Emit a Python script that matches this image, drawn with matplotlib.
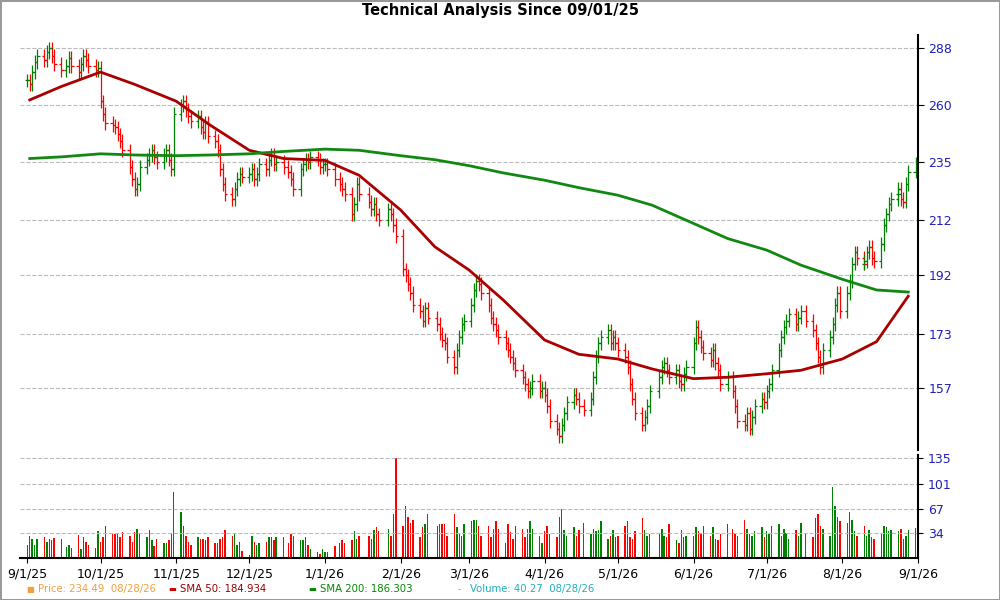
import matplotlib
matplotlib.use("Agg")
import matplotlib.pyplot as plt
import matplotlib.dates as mdates
import matplotlib.ticker as mticker
import numpy as np
import pandas as pd

months = ["2025-09","2025-10","2025-11","2025-12","2026-01","2026-02","2026-03",
          "2026-04","2026-05","2026-06","2026-07","2026-08"]
closes = [
 [272,270,276,281,284,282,286,288,284,280,277,279,283,279,276,280,284,282,279,277,278],
 [262,256,252,251,250,247,244,240,233,228,224,226,233,236,238,240,237,235,238,240,236,232,256],
 [260,262,258,255,253,255,250,248,252,246,244,240,232,226,222,220,224,228,230,229],
 [230,232,228,230,234,232,236,238,234,235,233,231,228,224,232,234,236,235,237,236,233,234],
 [234,232,228,226,224,222,214,218,226,222,219,216,218,214,212,216,214,210,206],
 [194,192,189,186,182,180,177,181,178,176,173,171,170,166,163,168,172,176,177],
 [182,187,190,189,186,182,178,176,174,172,170,168,166,164,162,160,158,156,157,159,156,157],
 [155,152,148,146,144,147,150,153,155,154,152,151,154,160,166,170,172,174,170,172,170],
 [168,166,163,158,154,150,147,149,152,156,160,163,164,162,160,162,159,158,161,163],
 [170,175,172,169,167,165,168,164,162,158,160,156,152,148,147,150,146,149,152,154,153],
 [156,158,162,168,172,175,177,179,176,178,180,177,174,170,166,163,168,172,176,182,186,180],
 [186,190,196,200,198,196,197,200,202,198,197,203,210,214,218,220,222,224,220,219,226,231,234.49],
]
volumes = [
 [17,30,26,18,26,28,22,26,25,27,26,15,18,14,31,12,28,22,18,14,36],
 [22,28,44,34,32,33,28,35,30,22,35,40,33,28,38,24,16,26,20,20,24,34,90],
 [62,44,30,22,18,28,26,26,25,28,20,20,26,28,38,30,32,18,22,10],
 [4,30,22,18,20,22,28,28,24,28,28,20,32,30,25,24,28,18,12,8,6,12],
 [8,8,16,20,24,20,25,36,26,30,30,26,38,42,36,40,30,60,135],
 [44,70,56,48,52,28,42,46,60,44,46,46,46,30,60,42,32,30,46],
 [50,52,52,44,30,44,28,40,50,40,20,46,35,26,44,40,28,40,50,40,30,20],
 [36,44,32,28,56,66,38,30,42,30,38,48,32,40,36,38,50,26,30,38,28],
 [30,44,50,28,26,36,54,38,30,32,34,40,30,28,46,24,20,38,28,30],
 [30,42,36,34,44,30,42,26,24,32,46,40,34,30,52,40,32,30,36,42,28],
 [36,32,44,46,30,40,34,26,38,30,48,32,28,54,60,44,40,30,96,70,56,50],
 [48,62,52,36,30,44,34,30,38,28,26,32,44,42,36,38,28,36,40,26,30,38,40.27],
]
sma_dates = ["2025-09-02","2025-09-15","2025-10-01","2025-10-15","2025-11-01","2025-11-15",
             "2025-12-01","2025-12-15","2026-01-01","2026-01-15","2026-02-01","2026-02-15",
             "2026-03-01","2026-03-15","2026-04-01","2026-04-15","2026-05-01","2026-05-15",
             "2026-06-01","2026-06-15","2026-07-01","2026-07-15","2026-08-01","2026-08-15","2026-08-28"]
sma50 = [262.6,269,276,270,262,251,240,236.5,235.7,229.5,215.7,202,193.8,183.7,171,166.7,
         165.3,162.4,159.6,160,161,162,165.3,170.5,184.934]
sma200 = [236.5,237.2,238.5,238,237.7,238,238.5,239.5,240.5,240,237.7,236,233.5,230.5,227.5,
          224.5,221.5,217.6,210.6,205,200.8,195.5,190.6,187,186.303]
price_ticks = [157,173,192,212,235,260,288]
vol_ticks = [34,67,101,135]

dates, cl, vol = [], [], []
for m, c, v in zip(months, closes, volumes):
    bd = pd.bdate_range(m + "-01", pd.Period(m).end_time.normalize())
    idx = np.linspace(0, len(bd) - 1, len(c)).round().astype(int)
    dates += list(bd[idx]); cl += c; vol += v
x = mdates.date2num(dates)
cl = np.array(cl, float)
op = np.r_[cl[0], cl[:-1]]
hi = np.maximum(op, cl) * 1.012
lo = np.minimum(op, cl) * 0.988
up = cl >= op
col = np.where(up, "#008000", "#ff0000")

fig = plt.figure(figsize=(10, 6), dpi=100)
fig.patch.set_edgecolor("#999999"); fig.patch.set_linewidth(2)
ax = fig.add_axes([0.02, 0.25, 0.898, 0.692])
axv = fig.add_axes([0.02, 0.07, 0.898, 0.172], sharex=ax)

ax.set_yscale("log")
ax.vlines(x, lo, hi, colors=col, lw=0.9)
ax.hlines(op, x - 1.0, x, colors=col, lw=0.9)
ax.hlines(cl, x, x + 1.0, colors=col, lw=0.9)
sd = mdates.date2num(pd.to_datetime(sma_dates))
ax.plot(sd, sma50, color="#aa0000", lw=2)
ax.plot(sd, sma200, color="#118811", lw=2)
ax.set_ylim(140.5, 295)
ax.yaxis.tick_right()
ax.yaxis.set_major_locator(mticker.FixedLocator(price_ticks))
ax.yaxis.set_minor_locator(mticker.NullLocator())
ax.yaxis.set_major_formatter(mticker.FixedFormatter([str(t) for t in price_ticks]))
ax.tick_params(axis="y", labelsize=9, length=4)
for lab in ax.get_yticklabels(): lab.set_color("#2020bb")
ax.grid(axis="y", ls="--", color="#bbbbbb", lw=0.8)
ax.tick_params(axis="x", labelbottom=False, length=0)
for s in ["top", "left", "bottom"]: ax.spines[s].set_visible(False)
ax.spines["right"].set_linewidth(1.5)

axv.bar(x, vol, width=0.6, color=col)
axv.set_ylim(0, 140)
axv.yaxis.tick_right()
axv.set_yticks(vol_ticks)
for lab in axv.get_yticklabels(): lab.set_color("#2020bb")
axv.tick_params(axis="y", labelsize=9)
axv.grid(axis="y", ls="--", color="#bbbbbb", lw=0.8)
for s in ["top", "left"]: axv.spines[s].set_visible(False)
axv.spines["right"].set_linewidth(1.5); axv.spines["bottom"].set_linewidth(1.5)
axv.xaxis.set_major_locator(mdates.MonthLocator())
axv.xaxis.set_major_formatter(mticker.FuncFormatter(
    lambda v, p: f"{mdates.num2date(v).month}/{mdates.num2date(v).day}/{mdates.num2date(v).year % 100}"))
axv.tick_params(axis="x", labelsize=9)
axv.set_xlim(mdates.date2num(pd.Timestamp("2025-08-29")), mdates.date2num(pd.Timestamp("2026-09-01")))

fig.text(0.5, 0.983, "Technical Analysis Since 09/01/25", ha="center", va="center",
         fontsize=10.5, fontweight="bold")
leg = [(0.026, "■", "#f0a040", "Price: 234.49  08/28/26", "#f0a040"),
       (0.168, "▬", "#cc0000", "SMA 50: 184.934", "#990000"),
       (0.308, "▬", "#008800", "SMA 200: 186.303", "#008800"),
       (0.458, "-", "#20b0c0", "Volume: 40.27  08/28/26", "#20b0c0")]
for xx, mk, mc, t, tc in leg:
    fig.text(xx, 0.018, mk, color=mc, fontsize=6, va="center")
    fig.text(xx + 0.012, 0.018, t, color=tc, fontsize=7.3, va="center")
fig.savefig("out.png", dpi=100)
